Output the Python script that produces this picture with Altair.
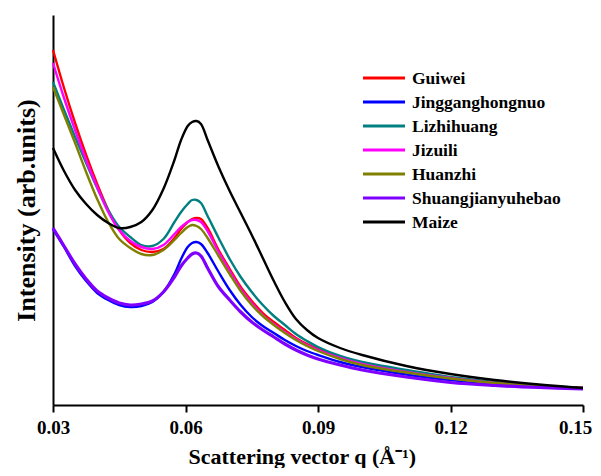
import altair as alt
import pandas as pd

q = [0.030, 0.0325, 0.035, 0.0375, 0.040, 0.0425, 0.045, 0.0475, 0.050, 0.0525,
     0.055, 0.0575, 0.059, 0.0605, 0.0615, 0.0625, 0.0635, 0.065, 0.0675, 0.070,
     0.0725, 0.075, 0.0775, 0.080, 0.0825, 0.085, 0.0875, 0.090, 0.095, 0.100,
     0.110, 0.120, 0.130, 0.140, 0.150]

guiwei = [355, 317, 282, 250, 221, 195, 175, 162, 155, 153, 156, 167, 176, 183, 186, 187, 186, 177,
          155, 136, 118, 104, 92, 83, 75, 67, 61, 56, 48, 42, 34, 27, 22, 19, 17]
jingganghongnuo = [176, 158, 139, 124, 112, 105, 100, 98, 99, 103, 113, 131, 146, 158, 162, 163, 161, 152,
                   133, 115, 100, 88, 79, 72, 65, 59, 54, 50, 43, 38, 30.5, 25, 21, 18.5, 17]
lizhihuang = [323, 295, 268, 242, 217, 195, 178, 168, 160, 159, 166, 183, 193, 201, 205, 205, 202, 189,
              167, 146, 128, 113, 100, 89, 80, 71, 64, 58, 49, 43, 35, 28, 23, 19.5, 17]
jizuili = [342, 307, 275, 245, 218, 193, 175, 164, 158, 156, 160, 171, 178, 183, 185, 185, 183, 174,
           153, 134, 116, 102, 90, 81, 73, 66, 60, 55, 47, 41, 33, 27, 22, 19, 17]
huanzhi = [318, 290, 262, 233, 206, 183, 166, 157, 151, 150, 155, 165, 172, 178, 180, 179, 176, 167,
           149, 131, 114, 100, 89, 80, 72, 65, 59, 54, 46, 40, 32.5, 26.5, 22, 19, 17]
shuangjianyuhebao = [177, 159, 141, 126, 114, 107, 102, 100, 101, 104, 113, 128, 139, 147, 151, 152, 149, 137,
                     118, 105, 93, 83, 75, 68, 61, 55, 50, 46, 40, 35, 28, 22.5, 19.5, 17.5, 16]
maize = [257, 234, 215, 201, 190, 182, 177, 178, 183, 195, 216, 245, 265, 279, 283, 284, 281, 265,
         238, 214, 192, 170, 147, 124, 103, 86, 75, 67, 57, 50, 39, 31, 25, 20.5, 17]

names = ["Guiwei", "Jingganghongnuo", "Lizhihuang", "Jizuili", "Huanzhi", "Shuangjianyuhebao", "Maize"]
series = [guiwei, jingganghongnuo, lizhihuang, jizuili, huanzhi, shuangjianyuhebao, maize]
colors = ["#FF0000", "#0000FF", "#008080", "#FF00FF", "#808000", "#8000FF", "#000000"]
x_ticks = [0.03, 0.06, 0.09, 0.12, 0.15]

rows = []
for i, (n, vals) in enumerate(zip(names, series)):
    for qq, v in zip(q, vals):
        rows.append({"q": qq, "intensity": v, "sample": n, "k": i})
df = pd.DataFrame(rows)
legend_df = pd.DataFrame({"sample": names})

FONT = "Liberation Serif"
color_scale = alt.Scale(domain=names, range=colors)

lines = alt.Chart(df).mark_line(interpolate="catmull-rom").encode(
    x=alt.X("q:Q",
            scale=alt.Scale(domain=[0.03, 0.15], nice=False, zero=False),
            axis=alt.Axis(values=x_ticks, format=".2f",
                          title="Scattering vector q (Å⁻¹)", grid=False,
                          domainColor="black", domainWidth=2, tickColor="black",
                          tickWidth=2, tickSize=7, labelPadding=6, labelFlush=False,
                          labelOffset={"condition": {"test": "datum.value > 0.14", "value": -8}, "value": 0},
                          labelFont=FONT, labelFontSize=19, labelFontWeight="bold",
                          labelColor="black", titleFont=FONT, titleFontSize=22,
                          titleFontWeight="bold", titleColor="black",
                          titleX=135, titleY=58, titleAlign="left",
                          titleBaseline="alphabetic")),
    y=alt.Y("intensity:Q",
            scale=alt.Scale(domain=[0, 390], nice=False),
            axis=alt.Axis(labels=False, ticks=False, grid=False,
                          title="Intensity (arb.units)", domainColor="black", domainWidth=2,
                          titleFont=FONT, titleFontSize=26, titleFontWeight="bold",
                          titleColor="black", titlePadding=14)),
    color=alt.Color("sample:N", scale=color_scale, legend=None),
    order=alt.Order("k:Q"),
    strokeWidth=alt.condition(alt.datum.sample == "Shuangjianyuhebao", alt.value(3.2), alt.value(2.4)),
)

leg_y = alt.Y("sample:N", scale=alt.Scale(type="point", domain=names, range=[63, 207], padding=0),
              axis=None)

legend_rules = alt.Chart(legend_df).mark_rule(strokeWidth=3).encode(
    x=alt.value(310), x2=alt.value(352), y=leg_y,
    color=alt.Color("sample:N", scale=color_scale, legend=None),
)

legend_text = alt.Chart(legend_df).mark_text(
    align="left", baseline="middle", font=FONT, fontSize=17.5, fontWeight="bold", color="black", dy=1
).encode(
    x=alt.value(359), y=leg_y, text="sample:N",
)

chart = alt.layer(lines, legend_rules, legend_text).resolve_scale(y="independent").properties(
    width=530, height=390,
    autosize=alt.AutoSizeParams(type="none"),
    padding={"left": 45, "top": 7, "right": 10, "bottom": 63},
).configure_view(stroke=None)

chart.save("out.html", embed_options={"renderer": "svg", "actions": False})
